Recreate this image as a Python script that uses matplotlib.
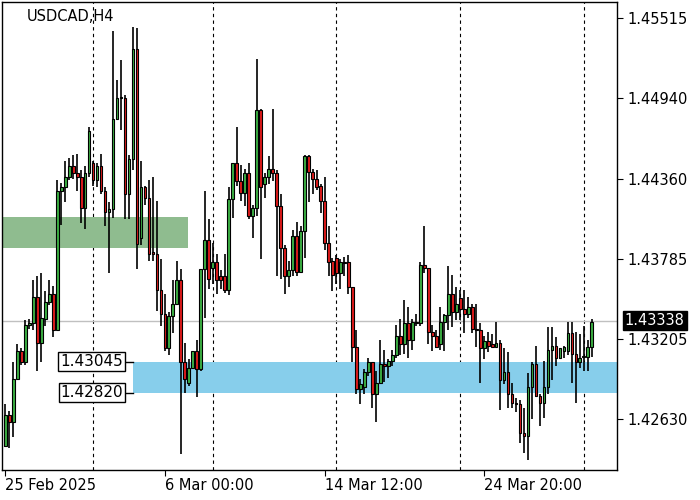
import matplotlib
matplotlib.use("Agg")
import matplotlib.pyplot as plt
import numpy as np

ohlc = [
(1.4244,1.4274,1.4243,1.4266),(1.4266,1.4269,1.4242,1.4261),(1.4261,1.4304,1.4250,1.4292),(1.4292,1.4317,1.4302,1.4312),
(1.4312,1.4314,1.4302,1.4304),(1.4304,1.4334,1.4302,1.4331),(1.4331,1.4335,1.4328,1.4332),(1.4332,1.4363,1.4327,1.4351),
(1.4351,1.4366,1.4298,1.4318),(1.4318,1.4368,1.4304,1.4336),(1.4335,1.4355,1.4330,1.4347),(1.4347,1.4363,1.4345,1.4353),
(1.4353,1.4359,1.4322,1.4327),(1.4327,1.4435,1.4327,1.4427),(1.4427,1.4433,1.4403,1.4430),(1.4430,1.4449,1.4419,1.4437),
(1.4437,1.4451,1.4435,1.4445),(1.4445,1.4453,1.4436,1.4440),(1.4440,1.4454,1.4427,1.4437),(1.4437,1.4442,1.4404,1.4415),
(1.4415,1.4445,1.4400,1.4440),(1.4440,1.4473,1.4437,1.4470),(1.4447,1.4449,1.4431,1.4435),(1.4435,1.4447,1.4430,1.4445),
(1.4445,1.4454,1.4425,1.4427),(1.4427,1.4430,1.4402,1.4412),(1.4412,1.4419,1.4368,1.4414),(1.4414,1.4542,1.4408,1.4479),
(1.4479,1.4507,1.4478,1.4494),(1.4494,1.4521,1.4471,1.4495),(1.4494,1.4496,1.4407,1.4425),(1.4425,1.4453,1.4407,1.4450),
(1.4450,1.4545,1.4442,1.4529),(1.4529,1.4544,1.4371,1.4389),(1.4393,1.4449,1.4388,1.4430),(1.4430,1.4431,1.4417,1.4422),
(1.4422,1.4435,1.4377,1.4382),(1.4383,1.4437,1.4377,1.4382),(1.4382,1.4420,1.4341,1.4356),(1.4356,1.4378,1.4330,1.4339),
(1.4339,1.4353,1.4312,1.4314),(1.4314,1.4340,1.4309,1.4337),(1.4337,1.4363,1.4325,1.4346),(1.4346,1.4377,1.4346,1.4363),
(1.4363,1.4371,1.4238,1.4304),(1.4304,1.4318,1.4282,1.4292),(1.4289,1.4306,1.4287,1.4300),(1.4300,1.4312,1.4299,1.4312),
(1.4312,1.4320,1.4279,1.4299),(1.4299,1.4371,1.4298,1.4371),(1.4371,1.4427,1.4336,1.4392),(1.4392,1.4407,1.4357,1.4364),
(1.4372,1.4390,1.4360,1.4376),(1.4376,1.4382,1.4353,1.4363),(1.4366,1.4370,1.4357,1.4363),(1.4366,1.4382,1.4354,1.4356),
(1.4356,1.4430,1.4352,1.4421),(1.4421,1.4447,1.4408,1.4447),(1.4447,1.4473,1.4431,1.4434),(1.4434,1.4446,1.4420,1.4426),
(1.4426,1.4443,1.4416,1.4440),(1.4440,1.4447,1.4407,1.4409),(1.4409,1.4417,1.4393,1.4415),(1.4415,1.4522,1.4409,1.4485),
(1.4485,1.4486,1.4378,1.4430),(1.4432,1.4440,1.4422,1.4437),(1.4437,1.4452,1.4432,1.4443),(1.4443,1.4486,1.4434,1.4440),
(1.4440,1.4442,1.4366,1.4416),(1.4416,1.4425,1.4364,1.4386),(1.4386,1.4388,1.4353,1.4366),(1.4366,1.4377,1.4358,1.4370),
(1.4370,1.4399,1.4366,1.4395),(1.4395,1.4405,1.4366,1.4369),(1.4369,1.4402,1.4368,1.4398),(1.4398,1.4453,1.4379,1.4452),
(1.4452,1.4453,1.4419,1.4441),(1.4441,1.4443,1.4425,1.4436),(1.4436,1.4442,1.4428,1.4430),(1.4431,1.4432,1.4411,1.4420),
(1.4420,1.4437,1.4385,1.4390),(1.4390,1.4402,1.4366,1.4376),(1.4377,1.4379,1.4355,1.4367),(1.4379,1.4381,1.4360,1.4368),
(1.4368,1.4378,1.4357,1.4376),(1.4376,1.4380,1.4366,1.4375),(1.4376,1.4381,1.4353,1.4358),(1.4358,1.4358,1.4304,1.4315),
(1.4315,1.4327,1.4281,1.4285),(1.4285,1.4292,1.4274,1.4288),(1.4286,1.4299,1.4281,1.4297),(1.4297,1.4307,1.4294,1.4304),
(1.4304,1.4304,1.4271,1.4281),(1.4281,1.4298,1.4261,1.4289),(1.4289,1.4320,1.4289,1.4303),(1.4303,1.4313,1.4290,1.4301),
(1.4301,1.4306,1.4293,1.4305),(1.4305,1.4313,1.4301,1.4309),(1.4309,1.4331,1.4307,1.4323),(1.4323,1.4335,1.4309,1.4317),
(1.4317,1.4349,1.4310,1.4332),(1.4332,1.4344,1.4307,1.4320),(1.4320,1.4335,1.4313,1.4333),(1.4333,1.4339,1.4330,1.4332),
(1.4332,1.4376,1.4330,1.4374),(1.4374,1.4402,1.4368,1.4372),(1.4372,1.4372,1.4317,1.4326),(1.4326,1.4331,1.4312,1.4323),
(1.4323,1.4327,1.4314,1.4315),(1.4317,1.4344,1.4313,1.4333),(1.4333,1.4339,1.4312,1.4338),(1.4338,1.4373,1.4327,1.4353),
(1.4353,1.4367,1.4329,1.4340),(1.4340,1.4358,1.4334,1.4346),(1.4350,1.4356,1.4334,1.4342),(1.4342,1.4356,1.4325,1.4339),
(1.4339,1.4351,1.4336,1.4344),(1.4344,1.4346,1.4325,1.4328),(1.4328,1.4346,1.4315,1.4327),(1.4327,1.4332,1.4289,1.4314),
(1.4314,1.4323,1.4306,1.4319),(1.4319,1.4326,1.4311,1.4316),(1.4317,1.4324,1.4316,1.4315),(1.4315,1.4333,1.4315,1.4318),
(1.4318,1.4320,1.4270,1.4291),(1.4291,1.4314,1.4288,1.4297),(1.4297,1.4311,1.4271,1.4281),(1.4281,1.4289,1.4271,1.4275),
(1.4275,1.4278,1.4268,1.4274),(1.4274,1.4277,1.4246,1.4253),(1.4253,1.4271,1.4239,1.4251),(1.4251,1.4296,1.4234,1.4286),
(1.4286,1.4304,1.4263,1.4303),(1.4303,1.4316,1.4279,1.4280),(1.4280,1.4281,1.4258,1.4275),(1.4275,1.4305,1.4264,1.4286),
(1.4286,1.4329,1.4281,1.4313),(1.4313,1.4329,1.4291,1.4316),(1.4316,1.4322,1.4301,1.4307),(1.4307,1.4314,1.4306,1.4314),
(1.4312,1.4316,1.4307,1.4315),(1.4312,1.4333,1.4309,1.4325),(1.4325,1.4333,1.4289,1.4310),(1.4310,1.4326,1.4275,1.4304),
(1.4304,1.4324,1.4300,1.4307),(1.4308,1.4330,1.4298,1.4308),(1.4308,1.4320,1.4298,1.4315),(1.4315,1.4335,1.4308,1.4333),
]
opens = [r[0] for r in ohlc]; highs = [r[1] for r in ohlc]; lows = [r[2] for r in ohlc]; closes = [r[3] for r in ohlc]

yticks = [1.45515, 1.44940, 1.44360, 1.43785, 1.43205, 1.42630]
xlabels = ["25 Feb 2025", "6 Mar 00:00", "14 Mar 12:00", "24 Mar 20:00"]
xlabel_idx = [0, 40, 80, 120]
grid_idx = [22, 52, 83, 114, 145]
last_price = 1.43338
green_zone = (1.43861, 1.44084)
blue_zone = (1.42820, 1.43045)

fig = plt.figure(figsize=(7, 5), dpi=100)
ax = fig.add_axes([0.003, 0.06, 0.879, 0.936])
n = len(ohlc)
x = np.arange(n)
ax.set_xlim(-0.8, 153.4)
ax.set_ylim(1.42265, 1.45630)

for g in grid_idx:
    ax.axvline(g, color='black', lw=0.8, ls=(0, (3, 3)), zorder=1)
ax.axhline(last_price, color='#c0c0c0', lw=1, zorder=1)

ax.fill_between([-0.8, 45.9], green_zone[0], green_zone[1], color='#8fbc8f', lw=0, zorder=2)
ax.fill_between([31.9, 153.4], blue_zone[0], blue_zone[1], color='#87ceeb', lw=0, zorder=2)

ax.vlines(x, lows, highs, color='black', lw=1.2, zorder=3)
o = np.array(opens); c = np.array(closes)
cols = np.where(c >= o, '#3cb043', '#e01b1b')
bottoms = np.minimum(o, c)
heights = np.maximum(np.abs(c - o), 0.00004)
ax.bar(x, heights, bottom=bottoms, width=0.7, color=cols, edgecolor='black', lw=0.8, zorder=4)

ax.yaxis.tick_right()
ax.set_yticks(yticks)
ax.set_yticklabels([f"{v:.5f}" for v in yticks], fontsize=10.5)
ax.set_xticks(xlabel_idx)
ax.set_xticklabels(xlabels, fontsize=10.5, ha='left')
ax.tick_params(axis='x', length=4, pad=2)
ax.tick_params(axis='y', length=4, pad=3)

ax.text(0.04, 0.985, "USDCAD,H4", transform=ax.transAxes, fontsize=10.5, va='top', ha='left')

ax.text(1.012, last_price, f"{last_price:.5f}", transform=ax.get_yaxis_transform(), fontsize=10.5,
        va='center', ha='left', color='white', bbox=dict(boxstyle='square,pad=0.15', fc='black', ec='black'))

for val in blue_zone[::-1]:
    ax.plot([29.6, 31.9], [val, val], color='black', lw=1, zorder=5)
    ax.text(29.5, val, f"{val:.5f}", fontsize=11, ha='right', va='center', zorder=6,
            bbox=dict(boxstyle='square,pad=0.12', fc='white', ec='black', lw=1))

for s in ax.spines.values():
    s.set_linewidth(1)
fig.savefig("out.png", dpi=100)
